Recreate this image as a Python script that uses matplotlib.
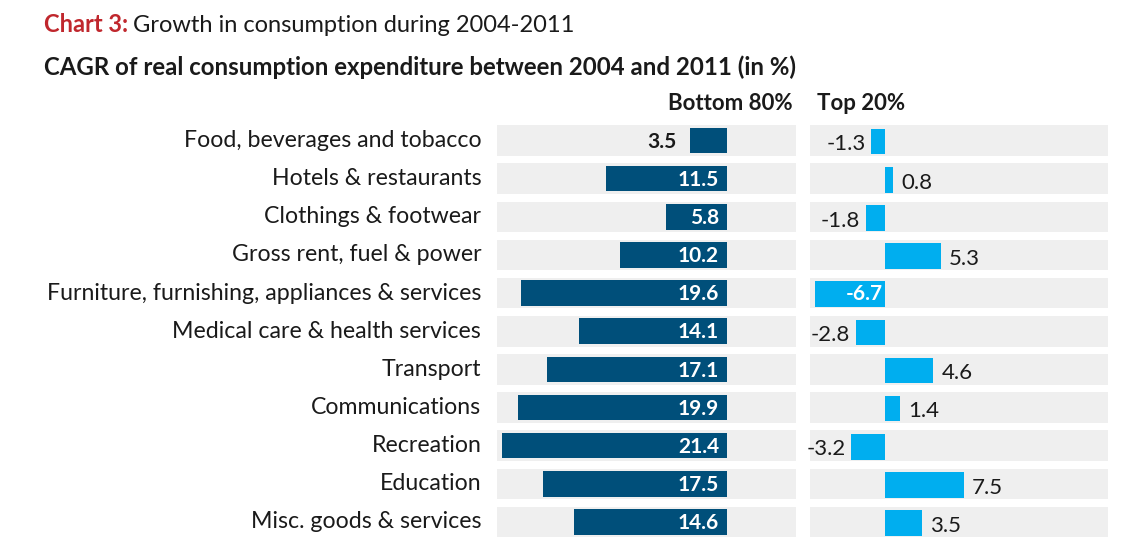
import matplotlib
matplotlib.use("Agg")
import matplotlib.pyplot as plt

categories = ["Food, beverages and tobacco", "Hotels & restaurants", "Clothings & footwear",
              "Gross rent, fuel & power", "Furniture, furnishing, appliances & services",
              "Medical care & health services", "Transport", "Communications", "Recreation",
              "Education", "Misc. goods & services"]
bottom80 = [3.5, 11.5, 5.8, 10.2, 19.6, 14.1, 17.1, 19.9, 21.4, 17.5, 14.6]
top20 = [-1.3, 0.8, -1.8, 5.3, -6.7, -2.8, 4.6, 1.4, -3.2, 7.5, 3.5]

FONT = "Lato"
DARK = "#004f7a"
LIGHT = "#00aeef"
GRAY = "#efefef"
TXT = "#1a1a1a"
RED = "#c0272d"

W, H = 1126, 552
fig = plt.figure(figsize=(W / 100, H / 100), dpi=100)
plt.rcParams['font.family'] = [FONT, 'DejaVu Sans']

def px_axes(x0, x1, y0, y1):
    return fig.add_axes([x0 / W, 1 - y1 / H, (x1 - x0) / W, (y1 - y0) / H])

n = len(categories)
ytop, ybot = 121.5, 541
axL = px_axes(497, 796, ytop, ybot)
axR = px_axes(810, 1108, ytop, ybot)

pxu = 10.5
L_zero, R_zero = 727, 885
L_xmax = (L_zero - 497) / pxu
L_xmin = -(796 - L_zero) / pxu
R_xmin = -(R_zero - 810) / pxu
R_xmax = (1108 - R_zero) / pxu

ys = list(range(n))
for ax, lo, hi in ((axL, L_xmin, L_xmax), (axR, R_xmin, R_xmax)):
    ax.set_ylim(n - 0.5, -0.5)
    for y in ys:
        ax.barh(y, hi - lo, left=lo, height=0.8, color=GRAY, zorder=0)
    ax.set_xlim(lo, hi)
    ax.axis("off")
axL.invert_xaxis()

axL.barh(ys, bottom80, height=0.67, color=DARK, zorder=2)
axR.barh([y + 0.03 for y in ys], top20, height=0.67, color=LIGHT, zorder=2)

VAL_FS = 15
for y, v in zip(ys, bottom80):
    if v >= 5:
        axL.text(0.75, y + 0.03, f"{v:.1f}", ha="right", va="center", color="white",
                 fontsize=VAL_FS, fontweight="bold", zorder=3)
    else:
        axL.text(v + 1.35, y + 0.03, f"{v:.1f}", ha="right", va="center", color=TXT,
                 fontsize=VAL_FS, fontweight="bold", zorder=3)
    axL.text(L_xmax + 1.5, y, categories[y], ha="right", va="center", color=TXT,
             fontsize=16.7, zorder=3, clip_on=False)

for y, v in zip(ys, top20):
    yy = y + 0.1
    if v <= -5:
        axR.text(-0.2, y + 0.03, f"{v:.1f}", ha="right", va="center", color="white",
                 fontsize=VAL_FS, fontweight="bold", zorder=3)
    elif v < 0:
        axR.text(v - 0.55, yy, f"{v:.1f}", ha="right", va="center", color=TXT,
                 fontsize=16, zorder=3, clip_on=False)
    else:
        axR.text(v + 0.8, yy, f"{v:.1f}", ha="left", va="center", color=TXT,
                 fontsize=16, zorder=3)

fig.text(793 / W, 1 - 104 / H, "Bottom 80%", ha="right", va="center", color=TXT,
         fontsize=16, fontweight="bold")
fig.text(817 / W, 1 - 104 / H, "Top 20%", ha="left", va="center", color=TXT,
         fontsize=16, fontweight="bold")

t1 = fig.text(44 / W, 1 - 25 / H, "Chart 3:", ha="left", va="center", color=RED,
              fontsize=17, fontweight="bold")
fig.canvas.draw()
bb = t1.get_window_extent()
fig.text((bb.x1 + 5) / W, 1 - 25 / H, "Growth in consumption during 2004-2011", ha="left",
         va="center", color=TXT, fontsize=17)
fig.text(44 / W, 1 - 67 / H, "CAGR of real consumption expenditure between 2004 and 2011 (in %)",
         ha="left", va="center", color=TXT, fontsize=17.3, fontweight="bold")

fig.savefig("out.png", dpi=100, facecolor="white")
